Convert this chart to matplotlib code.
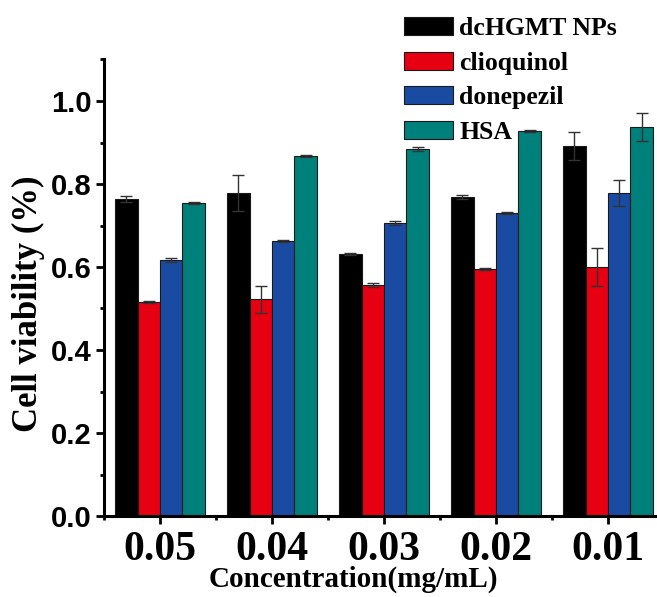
import matplotlib
matplotlib.use("Agg")
import matplotlib.pyplot as plt
import numpy as np
from matplotlib.ticker import MultipleLocator, AutoMinorLocator

# concentrations (mg/mL) and cell viability per treatment
conc = ['0.05', '0.04', '0.03', '0.02', '0.01']
series = ['dcHGMT NPs', 'clioquinol', 'donepezil', 'HSA']
dchgmt = [0.764, 0.779, 0.631, 0.769, 0.892]
dchgmt_err = [0.008, 0.043, 0.003, 0.004, 0.034]
clioq = [0.516, 0.522, 0.557, 0.595, 0.600]
clioq_err = [0.003, 0.032, 0.004, 0.003, 0.046]
donep = [0.617, 0.662, 0.706, 0.730, 0.778]
donep_err = [0.005, 0.002, 0.005, 0.002, 0.032]
hsa = [0.754, 0.867, 0.884, 0.928, 0.937]
hsa_err = [0.002, 0.002, 0.005, 0.002, 0.034]

colors = ['#000000', '#e60012', '#1a4ba3', '#00807a']
vals = [dchgmt, clioq, donep, hsa]
errs = [dchgmt_err, clioq_err, donep_err, hsa_err]

serif = 'Liberation Serif'
sans = 'Liberation Sans'

fig = plt.figure(figsize=(6.57, 5.97), dpi=100)
ax = fig.add_axes([104/657, 81/597, 560/657, 456.5/597])

x = np.arange(1, len(conc) + 1)
w = 0.2
offsets = [-1.5, -0.5, 0.5, 1.5]
for i in range(4):
    ax.bar(x + offsets[i]*w, vals[i], w, color=colors[i], edgecolor='#1a1a1a',
           linewidth=0.8, label=series[i], zorder=2)
    ax.errorbar(x + offsets[i]*w, vals[i], yerr=errs[i], fmt='none',
                ecolor='#333333', elinewidth=1, capsize=4, capthick=1, zorder=3)

ax.set_xlim(0.5, 5.5)
ax.set_ylim(0, 1.1)
ax.set_xticks(x)
ax.set_xticklabels(conc, fontfamily=serif, fontweight='bold', fontsize=30)
ax.xaxis.set_minor_locator(AutoMinorLocator(2))
ax.yaxis.set_minor_locator(MultipleLocator(0.1))
ax.set_yticks([0.0, 0.2, 0.4, 0.6, 0.8, 1.0])
ax.set_yticklabels(['0.0', '0.2', '0.4', '0.6', '0.8', '1.0'],
                   fontfamily=sans, fontweight='bold', fontsize=21)

for s in ['top', 'right']:
    ax.spines[s].set_visible(False)
for s in ['left', 'bottom']:
    ax.spines[s].set_linewidth(2.2)
ax.tick_params(which='major', direction='out', length=6, width=2)
ax.tick_params(axis='y', which='major', pad=3)
ax.tick_params(axis='x', which='major', pad=5)
ax.tick_params(which='minor', direction='out', length=3, width=2)

ax.set_xlabel('Concentration(mg/mL)', fontfamily=serif, fontweight='bold',
              fontsize=21)
ax.xaxis.set_label_coords((353 - 104) / 560, (516 - 566) / 456.5)
ax.set_ylabel('Cell viability (%)', fontfamily=serif, fontweight='bold',
              fontsize=25)
ax.yaxis.set_label_coords((45 - 104) / 560, (516 - 304) / 456.5)

fig.legend(loc='upper left', bbox_to_anchor=(404/657, 1 - 17/597), frameon=False,
           prop={'family': serif, 'weight': 'bold', 'size': 18.5},
           handlelength=1.9, handleheight=0.7, handletextpad=0.25,
           labelspacing=0.45, borderpad=0, borderaxespad=0)

fig.savefig('out.png', dpi=100)
